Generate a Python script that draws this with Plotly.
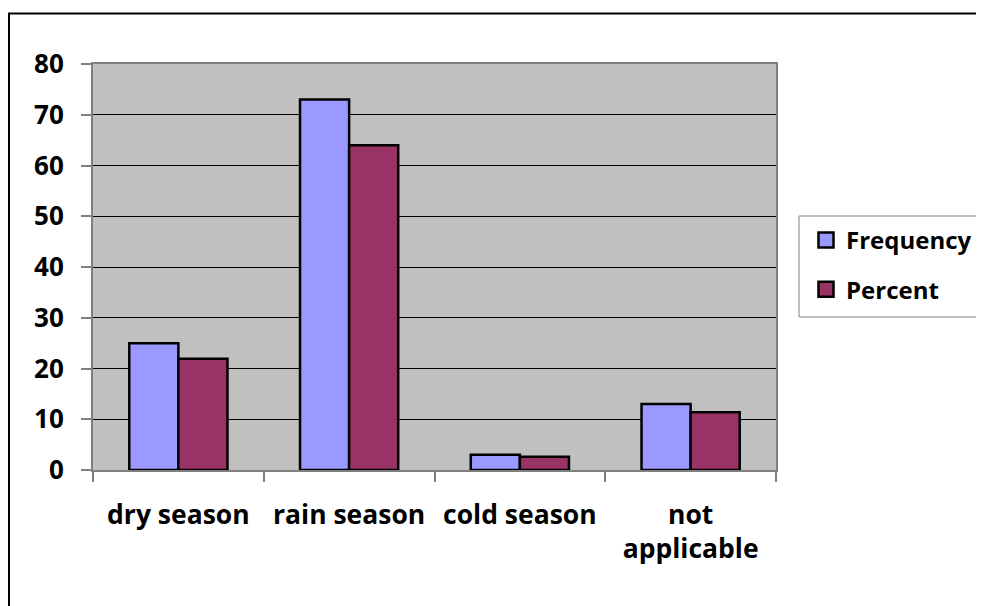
import plotly.graph_objects as go

categories = ["dry season", "rain season", "cold season", "not<br>applicable"]
frequency = [25, 73, 3, 13]
percent = [21.9, 64.0, 2.6, 11.4]
y_ticks = [0, 10, 20, 30, 40, 50, 60, 70, 80]

series_names = ["Frequency", "Percent"]
series_colors = ["#9999FF", "#993366"]

# page has an 8px body margin; work in page pixels and shift
OFF = 8
W, H = 984 - OFF, 606 - OFF
L, R, T, B = 93 - OFF, 776 - OFF, 64 - OFF, 470 - OFF

FAM = "Open Sans"

fig = go.Figure()
for name, vals, col in zip(series_names, [frequency, percent], series_colors):
    fig.add_trace(go.Bar(name=name, x=categories, y=vals,
                         marker=dict(color=col, line=dict(color="black", width=2.5)),
                         showlegend=False))
# legend entries with larger square swatches
for name, col in zip(series_names, series_colors):
    fig.add_trace(go.Scatter(name=name, x=[None], y=[None], mode="markers",
                             marker=dict(symbol="square", size=15, color=col,
                                         line=dict(color="black", width=2.5)),
                             legendgroup=name, showlegend=True, hoverinfo="skip"))

def px_x(px):
    return (px - OFF - L) / (R - L)

def px_y(py):
    return (B - (py - OFF)) / (B - T)

# outer chart border
fig.add_shape(type="rect", xref="paper", yref="paper",
              x0=px_x(9), x1=px_x(1000), y0=px_y(630), y1=px_y(13.5),
              line=dict(color="black", width=2), layer="above")
# legend box
fig.add_shape(type="rect", xref="paper", yref="paper",
              x0=px_x(799), x1=px_x(1000), y0=px_y(317), y1=px_y(216),
              line=dict(color="#808080", width=1), fillcolor="white", layer="below")

fig.update_layout(
    width=W, height=H,
    margin=dict(l=L, r=W - R, t=T, b=H - B, pad=0, autoexpand=False),
    paper_bgcolor="white",
    plot_bgcolor="#C0C0C0",
    barmode="group",
    bargap=0.425,
    bargroupgap=0,
    font=dict(family=FAM, size=26, color="black"),
    showlegend=True,
    legend=dict(
        x=px_x(806), y=px_y(218), xanchor="left", yanchor="top",
        bgcolor="rgba(0,0,0,0)", borderwidth=0,
        font=dict(family=FAM, size=24, color="black", weight="bold"),
        traceorder="grouped", tracegroupgap=15,
        itemsizing="trace", itemwidth=30,
    ),
    xaxis=dict(
        type="category",
        showline=True, linecolor="#808080", linewidth=2, mirror=True,
        ticks="outside", tickson="boundaries", ticklen=10, tickcolor="#808080", tickwidth=1.5,
        tickfont=dict(family=FAM, size=26.5, color="black", weight="bold"),
        showgrid=False,
        ticklabelstandoff=20,
        automargin=False,
    ),
    yaxis=dict(
        range=[0, 80],
        tickvals=y_ticks,
        showline=True, linecolor="#808080", linewidth=2, mirror=True,
        ticks="outside", ticklen=10, tickcolor="#808080", tickwidth=1.5,
        tickfont=dict(family=FAM, size=26, color="black", weight="bold"),
        showgrid=True, gridcolor="black", gridwidth=1,
        zeroline=False,
        ticklabelstandoff=12,
        automargin=False,
    ),
)

fig.write_html("out.html")
